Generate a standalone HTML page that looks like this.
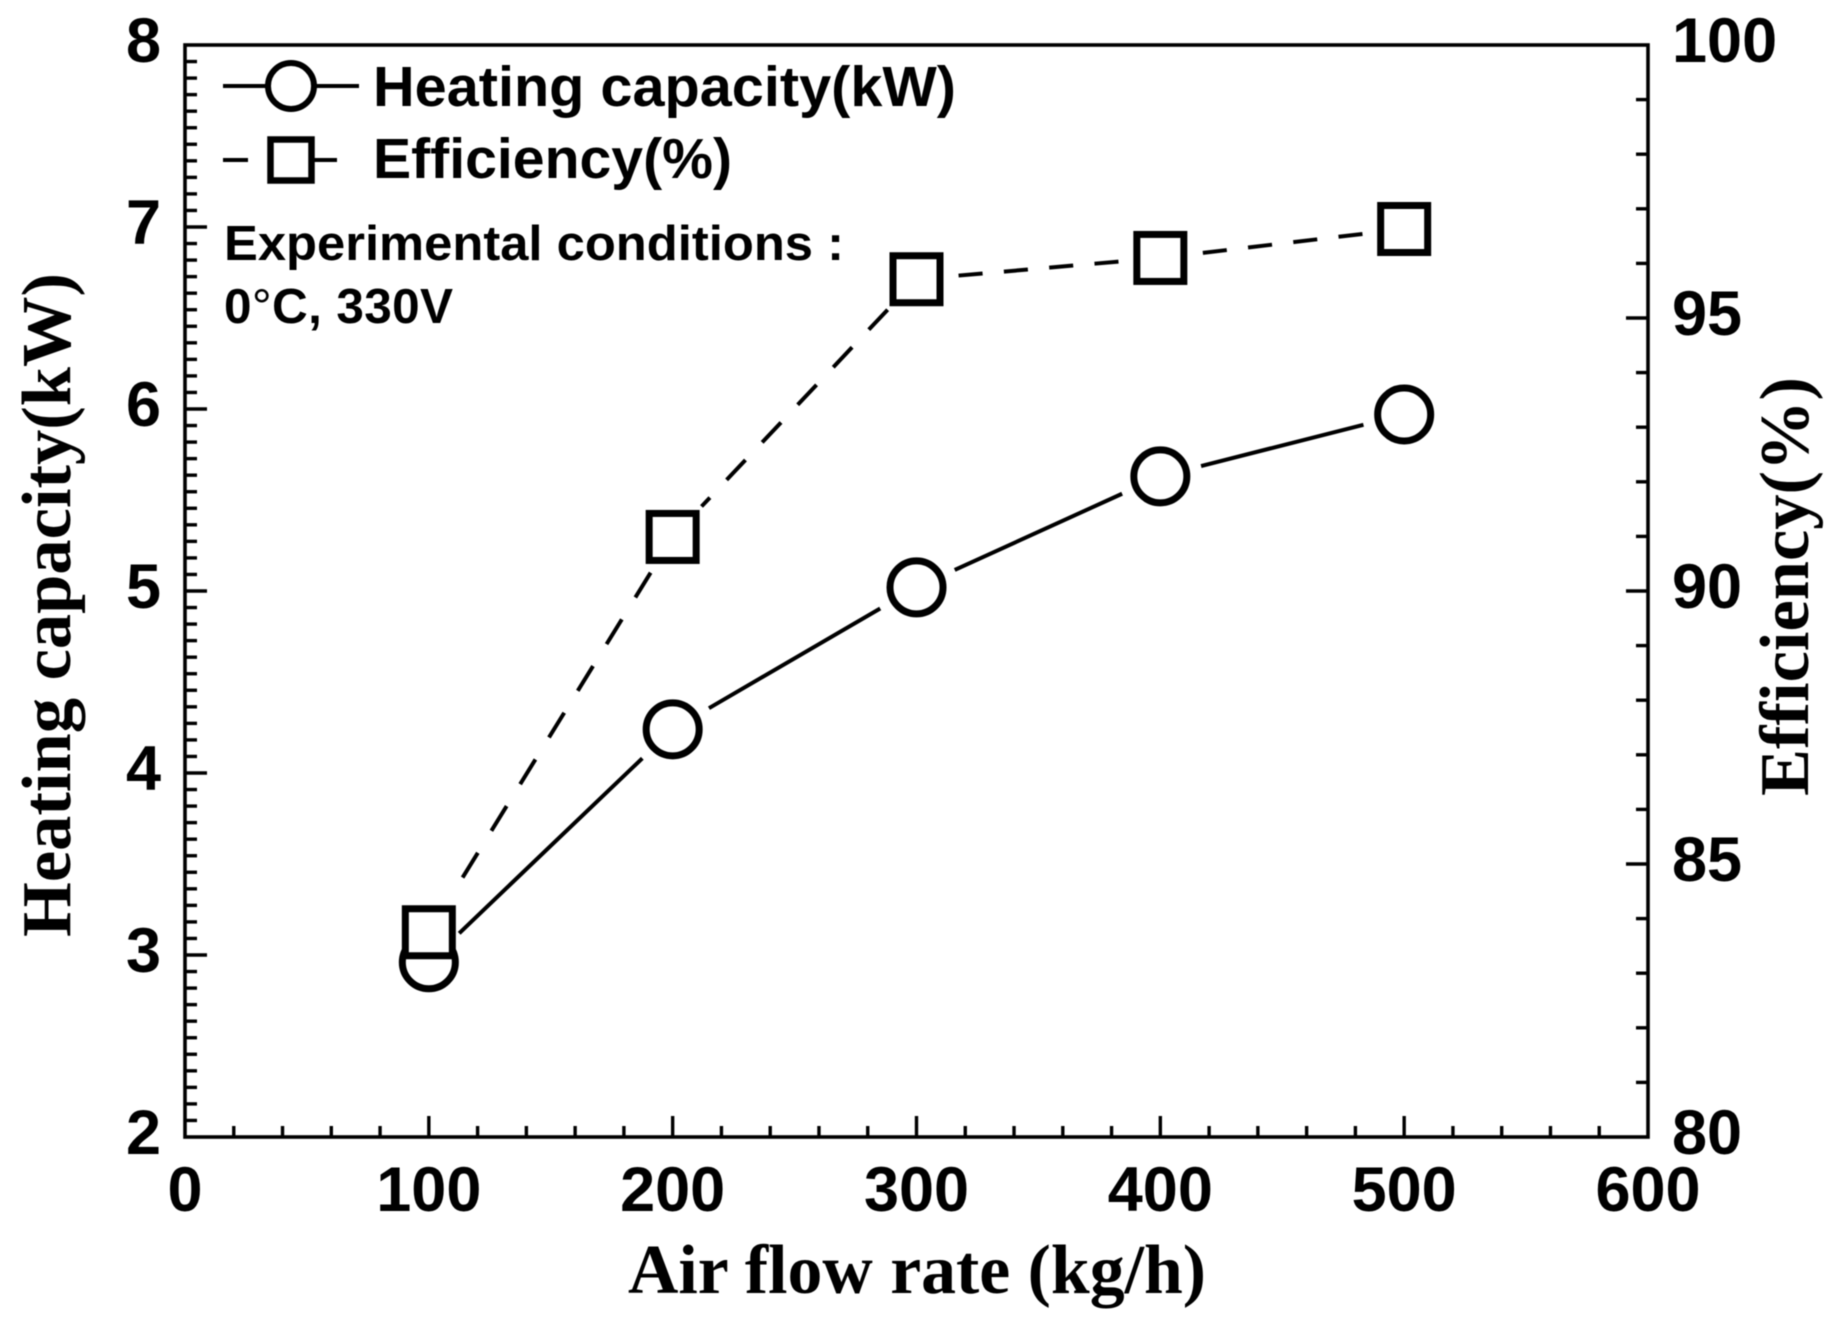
<!DOCTYPE html>
<html lang="en">
<head>
<meta charset="utf-8">
<title>Heating capacity and efficiency vs air flow rate</title>
<style>
html,body{margin:0;padding:0;background:#fff;width:1848px;height:1320px;overflow:hidden}
svg{display:block;filter:blur(.5px)}
.tick-label{font-family:"Liberation Sans",sans-serif;font-weight:700;font-size:63px;fill:#000}
.legend-text{font-family:"Liberation Sans",sans-serif;font-weight:700;font-size:57px;fill:#000}
.note-text{font-family:"Liberation Sans",sans-serif;font-weight:700;font-size:49.5px;fill:#000}
.axis-title{font-family:"Liberation Serif",serif;font-weight:700;font-size:70px;fill:#000}
</style>
</head>
<body>
<svg id="chart" xmlns="http://www.w3.org/2000/svg" width="1848" height="1320" viewBox="0 0 1848 1320">
  <rect x="0" y="0" width="1848" height="1320" fill="#fff"/>
  <g id="ticks"></g>
  <rect x="185" y="45" width="1463" height="1092" fill="none" stroke="#000" stroke-width="3.6"/>
  <g id="tick-labels"></g>
  <g id="series"></g>

  <g>
    <g>
      <line x1="223" y1="86" x2="359" y2="86" stroke="#000" stroke-width="4"/>
      <circle cx="291" cy="86" r="23" fill="#fff" stroke="#000" stroke-width="6"/>
      <text class="legend-text" x="373" y="106" textLength="583" lengthAdjust="spacingAndGlyphs">Heating capacity(kW)</text>
    </g>
    <g>
      <line x1="223" y1="160" x2="248" y2="160" stroke="#000" stroke-width="4"/>
      <line x1="312" y1="160" x2="337" y2="160" stroke="#000" stroke-width="4"/>
      <rect x="270.5" y="139.5" width="41" height="41" fill="#fff" stroke="#000" stroke-width="6.5"/>
      <text class="legend-text" x="373" y="178" textLength="359" lengthAdjust="spacingAndGlyphs">Efficiency(%)</text>
    </g>
  </g>

  <text class="note-text" x="224" y="260" textLength="620" lengthAdjust="spacingAndGlyphs">Experimental conditions :</text>
  <text class="note-text" x="224" y="323" textLength="229" lengthAdjust="spacing">0<tspan font-weight="400">°</tspan>C, 330V</text>

  <text class="axis-title" x="628" y="1293" textLength="578" lengthAdjust="spacingAndGlyphs">Air flow rate (kg/h)</text>
  <text class="axis-title" transform="translate(70 937) rotate(-90)" x="0" y="0" textLength="664" lengthAdjust="spacingAndGlyphs">Heating capacity(kW)</text>
  <text class="axis-title" transform="translate(1808 796) rotate(-90)" x="0" y="0" textLength="419" lengthAdjust="spacingAndGlyphs">Efficiency(%)</text>
</svg>

<script>
const airFlowRates = [100, 200, 300, 400, 500];
const heatingCapacity = [2.96, 4.24, 5.02, 5.63, 5.97];
const efficiency = [83.75, 90.99, 95.71, 96.1, 96.63];
const xTickLabels = [0, 100, 200, 300, 400, 500, 600];
const leftTickLabels = [2, 3, 4, 5, 6, 7, 8];
const rightTickLabels = [80, 85, 90, 95, 100];

const SVG_NS = 'http://www.w3.org/2000/svg';
const plot = { left: 185, right: 1648, top: 45, bottom: 1137 };
const xDomain = [0, 600];
const leftDomain = [2, 8];
const rightDomain = [80, 100];

function xScale(v) {
  return plot.left + (v - xDomain[0]) / (xDomain[1] - xDomain[0]) * (plot.right - plot.left);
}
function leftScale(v) {
  return plot.bottom - (v - leftDomain[0]) / (leftDomain[1] - leftDomain[0]) * (plot.bottom - plot.top);
}
function rightScale(v) {
  return plot.bottom - (v - rightDomain[0]) / (rightDomain[1] - rightDomain[0]) * (plot.bottom - plot.top);
}
function make(tag, parent) {
  const el = document.createElementNS(SVG_NS, tag);
  parent.appendChild(el);
  return el;
}
function setAll(el, props) {
  Object.keys(props).forEach(function (k) { el.setAttribute(k, props[k]); });
}

const tickLayer = document.getElementById('ticks');
const labelLayer = document.getElementById('tick-labels');
const seriesLayer = document.getElementById('series');

function drawTick(x1, y1, x2, y2, name) {
  const el = make('line', tickLayer);
  setAll(el, { x1: x1, y1: y1, x2: x2, y2: y2, stroke: '#000', 'stroke-width': 3.4 });
  
  
}
function drawLabel(text, x, y, anchor, name) {
  const el = make('text', labelLayer);
  setAll(el, { x: x, y: y, 'text-anchor': anchor, class: 'tick-label' });
  el.textContent = text;
  
  
}

/* X axis: major every label, 4 minor ticks between majors */
xTickLabels.forEach(function (v, i) {
  const x = xScale(v);
  if (i > 0 && i < xTickLabels.length - 1) {
    drawTick(x, plot.bottom, x, plot.bottom - 21, 'x-major-tick');
  }
  drawLabel(String(v), x, 1211, 'middle', 'x-tick-label');
  if (i < xTickLabels.length - 1) {
    const step = (xTickLabels[i + 1] - v) / 5;
    for (let k = 1; k < 5; k++) {
      const mx = xScale(v + step * k);
      drawTick(mx, plot.bottom, mx, plot.bottom - 11, 'x-minor-tick');
    }
  }
});

/* Left axis: major every label, 10 minor ticks between majors */
leftTickLabels.forEach(function (v, i) {
  const y = leftScale(v);
  if (i > 0 && i < leftTickLabels.length - 1) {
    drawTick(plot.left, y, plot.left + 22, y, 'left-major-tick');
  }
  drawLabel(String(v), 161, y + 17, 'end', 'left-y-tick-label');
  if (i < leftTickLabels.length - 1) {
    const step = (leftTickLabels[i + 1] - v) / 11;
    for (let k = 1; k < 11; k++) {
      const my = leftScale(v + step * k);
      drawTick(plot.left, my, plot.left + 12, my, 'left-minor-tick');
    }
  }
});

/* Right axis: major every label, 4 minor ticks between majors */
rightTickLabels.forEach(function (v, i) {
  const y = rightScale(v);
  if (i > 0 && i < rightTickLabels.length - 1) {
    drawTick(plot.right, y, plot.right - 22, y, 'right-major-tick');
  }
  drawLabel(String(v), 1672, y + 17, 'start', 'right-y-tick-label');
  if (i < rightTickLabels.length - 1) {
    const step = (rightTickLabels[i + 1] - v) / 5;
    for (let k = 1; k < 5; k++) {
      const my = rightScale(v + step * k);
      drawTick(plot.right, my, plot.right - 12, my, 'right-minor-tick');
    }
  }
});

/* Connector segments stop short of each marker, as in the source figure */
const MARKER_GAP = 42;

function drawSegment(ax, ay, bx, by, dashed, name) {
  const dx = bx - ax;
  const dy = by - ay;
  const len = Math.sqrt(dx * dx + dy * dy);
  if (len <= MARKER_GAP * 2) return;
  const ux = dx / len;
  const uy = dy / len;
  const el = make('line', seriesLayer);
  setAll(el, {
    x1: ax + ux * MARKER_GAP,
    y1: ay + uy * MARKER_GAP,
    x2: bx - ux * MARKER_GAP,
    y2: by - uy * MARKER_GAP,
    stroke: '#000',
    'stroke-width': 4
  });
  if (dashed) {
    const period = 45.4 / Math.sqrt(ux * ux + (uy / 1.33) * (uy / 1.33));
    el.setAttribute('stroke-dasharray', (period * 0.53) + ' ' + (period * 0.47));
  }
  
  
}

/* Solid heating-capacity connectors */
for (let i = 0; i < airFlowRates.length - 1; i++) {
  drawSegment(
    xScale(airFlowRates[i]), leftScale(heatingCapacity[i]),
    xScale(airFlowRates[i + 1]), leftScale(heatingCapacity[i + 1]),
    false, 'heating-capacity-line-segment'
  );
}
/* Dashed efficiency connectors, dash phase starts at the higher-x end */
for (let i = airFlowRates.length - 1; i > 0; i--) {
  drawSegment(
    xScale(airFlowRates[i]), rightScale(efficiency[i]),
    xScale(airFlowRates[i - 1]), rightScale(efficiency[i - 1]),
    true, 'efficiency-line-segment'
  );
}

/* Markers: circles first, squares on top with white fill */
airFlowRates.forEach(function (r, i) {
  const c = make('circle', seriesLayer);
  setAll(c, { cx: xScale(r), cy: leftScale(heatingCapacity[i]), r: 26.5, fill: '#fff', stroke: '#000', 'stroke-width': 7 });
  
  
});
airFlowRates.forEach(function (r, i) {
  const side = 47;
  const s = make('rect', seriesLayer);
  setAll(s, {
    x: xScale(r) - side / 2,
    y: rightScale(efficiency[i]) - side / 2,
    width: side,
    height: side,
    fill: '#fff',
    stroke: '#000',
    'stroke-width': 7
  });
  
  
});
</script>
</body>
</html>
